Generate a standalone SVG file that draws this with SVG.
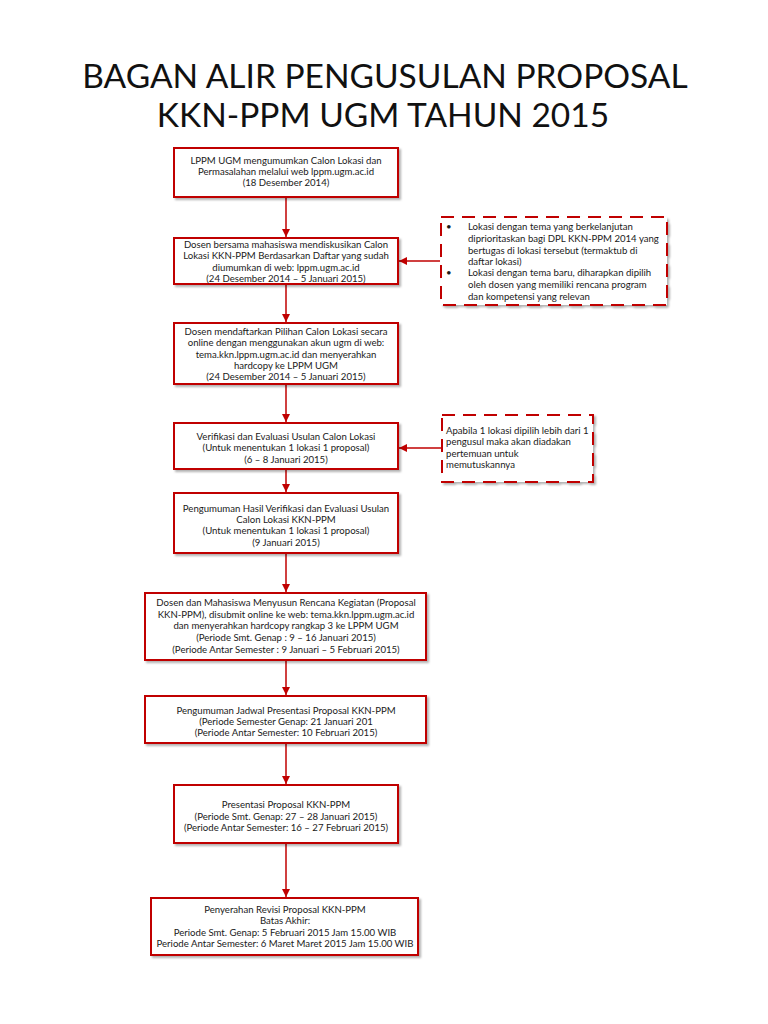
<svg xmlns="http://www.w3.org/2000/svg" width="768" height="1024" viewBox="0 0 768 1024">
<style>
.box{fill:#fff;stroke:#C00000;stroke-width:2;filter:url(#sh)}
.note{fill:#fff;stroke:#C00000;stroke-width:2;stroke-dasharray:13 8;filter:url(#sh)}
.t{font-family:Lato,"Liberation Sans",sans-serif;font-size:9.6px;fill:#1a1a1a;text-anchor:middle}
.tl{font-family:Lato,"Liberation Sans",sans-serif;font-size:9.6px;fill:#1a1a1a}
.title{font-family:Lato,"Liberation Sans",sans-serif;font-size:33.5px;fill:#111;text-anchor:middle}
.c{stroke:#C00000;stroke-width:1.5;fill:none}
</style>
<defs>
<filter id="sh" x="-5%" y="-5%" width="115%" height="125%">
<feDropShadow dx="2" dy="2" stdDeviation="1.2" flood-color="#000" flood-opacity="0.3"/>
</filter>
<marker id="ar" viewBox="0 0 10 10" refX="10" refY="5" markerWidth="5.5" markerHeight="5.5" orient="auto" markerUnits="strokeWidth">
<path d="M0,0 L10,5 L0,10 z" fill="#C00000"/>
</marker>
</defs>
<rect width="768" height="1024" fill="#fff"/>
<g id="title">
<text class="title" x="385" y="88">BAGAN ALIR PENGUSULAN PROPOSAL</text>
<text class="title" x="383" y="127">KKN-PPM UGM TAHUN 2015</text>
</g>
<g id="connectors">
<line class="c" x1="286" y1="197" x2="286" y2="237" marker-end="url(#ar)"/>
<line class="c" x1="286" y1="284" x2="286" y2="322" marker-end="url(#ar)"/>
<line class="c" x1="286" y1="384" x2="286" y2="422" marker-end="url(#ar)"/>
<line class="c" x1="286" y1="469" x2="286" y2="492" marker-end="url(#ar)"/>
<line class="c" x1="286" y1="553" x2="286" y2="592" marker-end="url(#ar)"/>
<line class="c" x1="286" y1="660" x2="286" y2="695" marker-end="url(#ar)"/>
<line class="c" x1="286" y1="743" x2="286" y2="784" marker-end="url(#ar)"/>
<line class="c" x1="286" y1="843" x2="286" y2="897" marker-end="url(#ar)"/>
<line class="c" x1="440" y1="261" x2="399" y2="261" marker-end="url(#ar)"/>
<line class="c" x1="441" y1="448" x2="399" y2="448" marker-end="url(#ar)"/>
</g>
<g id="n1">
<rect class="box" x="174" y="148" width="224" height="49"/>
<text class="t" x="286" y="164">LPPM UGM mengumumkan Calon Lokasi dan</text>
<text class="t" x="286" y="175">Permasalahan melalui web lppm.ugm.ac.id</text>
<text class="t" x="286" y="186">(18 Desember 2014)</text>
</g>
<g id="n2">
<rect class="box" x="174" y="238" width="224" height="46"/>
<text class="t" x="286" y="248">Dosen bersama mahasiswa mendiskusikan Calon</text>
<text class="t" x="286" y="259">Lokasi KKN-PPM Berdasarkan Daftar yang sudah</text>
<text class="t" x="286" y="270.5">diumumkan di web: lppm.ugm.ac.id</text>
<text class="t" x="286" y="281.5">(24 Desember 2014 – 5 Januari 2015)</text>
</g>
<g id="n3">
<rect class="box" x="174" y="323" width="224" height="61"/>
<text class="t" x="286" y="335">Dosen mendaftarkan Pilihan Calon Lokasi secara</text>
<text class="t" x="286" y="346">online dengan menggunakan akun ugm di web:</text>
<text class="t" x="286" y="357.5">tema.kkn.lppm.ugm.ac.id dan menyerahkan</text>
<text class="t" x="286" y="368.5">hardcopy ke LPPM UGM</text>
<text class="t" x="286" y="380">(24 Desember 2014 – 5 Januari 2015)</text>
</g>
<g id="n4">
<rect class="box" x="174" y="423" width="224" height="46"/>
<text class="t" x="286" y="439.5">Verifikasi dan Evaluasi Usulan Calon Lokasi</text>
<text class="t" x="286" y="451">(Untuk menentukan 1 lokasi 1 proposal)</text>
<text class="t" x="286" y="462.5">(6 – 8 Januari 2015)</text>
</g>
<g id="n5">
<rect class="box" x="174" y="493" width="224" height="60"/>
<text class="t" x="286" y="511.5">Pengumuman Hasil Verifikasi dan Evaluasi Usulan</text>
<text class="t" x="286" y="522.5">Calon Lokasi KKN-PPM</text>
<text class="t" x="286" y="534">(Untuk menentukan 1 lokasi 1 proposal)</text>
<text class="t" x="286" y="545.5">(9 Januari 2015)</text>
</g>
<g id="n6">
<rect class="box" x="145" y="593" width="281" height="67"/>
<text class="t" x="286" y="605.5">Dosen dan Mahasiswa Menyusun Rencana Kegiatan (Proposal</text>
<text class="t" x="286" y="617.5">KKN-PPM), disubmit online  ke web: tema.kkn.lppm.ugm.ac.id</text>
<text class="t" x="286" y="629">dan menyerahkan hardcopy rangkap 3 ke LPPM UGM</text>
<text class="t" x="286" y="640.5">(Periode Smt. Genap : 9 – 16 Januari 2015)</text>
<text class="t" x="286" y="652.5">(Periode Antar Semester : 9 Januari – 5 Februari 2015)</text>
</g>
<g id="n7">
<rect class="box" x="145" y="696" width="281" height="47"/>
<text class="t" x="286" y="714">Pengumuman Jadwal Presentasi Proposal KKN-PPM</text>
<text class="t" x="286" y="725">(Periode Semester Genap: 21 Januari 201</text>
<text class="t" x="286" y="736">(Periode Antar Semester: 10 Februari 2015)</text>
</g>
<g id="n8">
<rect class="box" x="174" y="785" width="224" height="58"/>
<text class="t" x="286" y="808">Presentasi Proposal KKN-PPM</text>
<text class="t" x="286" y="820">(Periode Smt. Genap: 27 – 28 Januari 2015)</text>
<text class="t" x="286" y="831">(Periode Antar Semester: 16 – 27 Februari 2015)</text>
</g>
<g id="n9">
<rect class="box" x="151" y="898" width="267" height="57"/>
<text class="t" x="285" y="913">Penyerahan Revisi Proposal KKN-PPM</text>
<text class="t" x="285" y="924">Batas Akhir:</text>
<text class="t" x="285" y="935.5">Periode Smt. Genap: 5 Februari 2015 Jam 15.00 WIB</text>
<text class="t" x="285" y="946.5">Periode Antar Semester: 6 Maret Maret 2015 Jam 15.00 WIB</text>
</g>
<g id="note1">
<rect class="note" x="441" y="217" width="226" height="88"/>
<text class="tl" x="446" y="230">•</text>
<text class="tl" x="468" y="230">Lokasi dengan tema yang berkelanjutan</text>
<text class="tl" x="468" y="242">diprioritaskan bagi DPL KKN-PPM 2014 yang</text>
<text class="tl" x="468" y="253.5">bertugas di lokasi tersebut (termaktub di</text>
<text class="tl" x="468" y="265">daftar lokasi)</text>
<text class="tl" x="446" y="276">•</text>
<text class="tl" x="468" y="276">Lokasi dengan tema baru, diharapkan dipilih</text>
<text class="tl" x="468" y="288">oleh dosen yang memiliki rencana program</text>
<text class="tl" x="468" y="299.5">dan kompetensi yang relevan</text>
</g>
<g id="note2">
<rect class="note" x="442" y="415" width="151" height="67"/>
<text class="tl" x="446" y="433.5">Apabila 1 lokasi dipilih lebih dari 1</text>
<text class="tl" x="446" y="445">pengusul maka akan diadakan</text>
<text class="tl" x="446" y="456.5">pertemuan untuk</text>
<text class="tl" x="446" y="468">memutuskannya</text>
</g>
</svg>
